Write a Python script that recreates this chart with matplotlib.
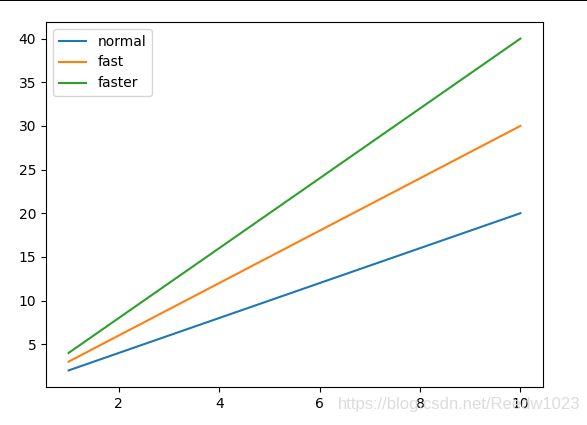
import matplotlib
matplotlib.use("Agg")
import matplotlib.pyplot as plt
from matplotlib.lines import Line2D

x = [1, 2, 3, 4, 5, 6, 7, 8, 9, 10]
normal = [2, 4, 6, 8, 10, 12, 14, 16, 18, 20]
fast = [3, 6, 9, 12, 15, 18, 21, 24, 27, 30]
faster = [4, 8, 12, 16, 20, 24, 28, 32, 36, 40]

fig = plt.figure(figsize=(5.87, 4.25), dpi=100)
ax = fig.add_axes([46/587, 1 - 387/425, 497/587, 365/425])
ax.plot(x, normal, label="normal")
ax.plot(x, fast, label="fast")
ax.plot(x, faster, label="faster")
ax.legend(loc="upper left")

fig.add_artist(Line2D([0, 1], [0.999, 0.999], transform=fig.transFigure, color="black", lw=1.4))
fig.text(580/587, 1 - 405/425, "https://blog.csdn.net/Reedw1023", ha="right", va="center",
         fontsize=12, family="Liberation Sans", color="#dcdcdc", zorder=0)

fig.savefig("out.png", dpi=100)
